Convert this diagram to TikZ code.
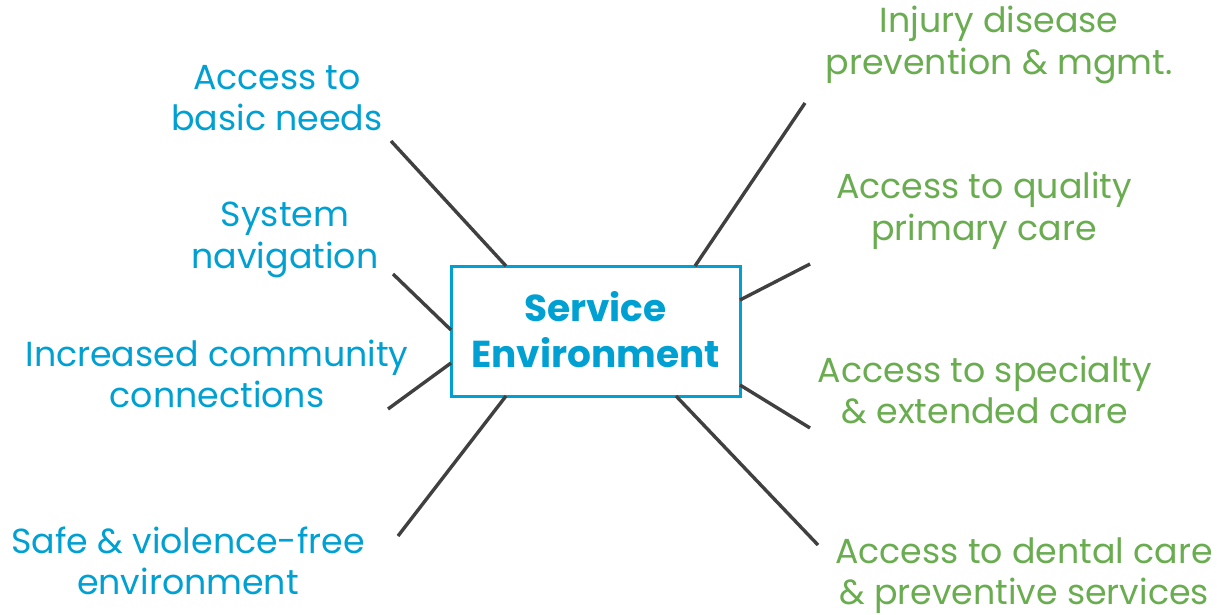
\documentclass[tikz,border=0pt]{standalone}
\usepackage{fontspec}
\setmainfont{Poppins}
\definecolor{sblue}{RGB}{0,160,210}
\definecolor{sgreen}{RGB}{106,172,80}
\definecolor{sline}{RGB}{64,64,64}
\begin{document}
\begin{tikzpicture}[x=1pt,y=-1pt,
  lbl/.style={align=center,inner sep=0pt,font=\fontsize{34.8}{41.5}\selectfont},
  bl/.style={lbl,text=sblue},
  gr/.style={lbl,text=sgreen},
  conn/.style={draw=sline,line width=3.4pt},
  hub/.style={draw=sblue,line width=3pt,minimum width=289pt,minimum height=130pt,inner sep=0pt,align=center,text=sblue,font=\fontsize{37.5}{46}\selectfont\bfseries}]
\useasboundingbox (0,0) rectangle (1217,615);
\node[hub] (box) at (595.5,331) {\raisebox{3pt}{Service}\\\raisebox{3pt}{Environment}};
% left labels
\node[bl] (l1) at (277,98) {Access to\\basic needs};
\node[bl] (l2) at (285,240) {System\\navigation};
\node[bl] (l3) at (217,374) {Increased community\\connections};
\node[bl] (l4) at (188,561) {Safe \& violence-free\\environment};
% right labels
\node[gr] (r1) at (999,45) {Injury disease\\prevention \& mgmt.};
\node[gr] (r2) at (984,211) {Access to quality\\primary care};
\node[gr] (r3) at (985,390) {Access to specialty\\\& extended care};
\node[gr] (r4) at (1024,575.5) {Access to dental care\\\& preventive services};
% connector ends
\coordinate (a1) at (391,141); \coordinate (b1) at (506,266);
\coordinate (a2) at (393,274); \coordinate (b2) at (451,330);
\coordinate (a3) at (388,409); \coordinate (b3) at (451,363);
\coordinate (a4) at (398,536); \coordinate (b4) at (506,396);
\coordinate (c1) at (805,103); \coordinate (d1) at (695,266);
\coordinate (c2) at (810,264); \coordinate (d2) at (740,300);
\coordinate (c3) at (810,428); \coordinate (d3) at (740,385);
\coordinate (c4) at (818,545); \coordinate (d4) at (676,396);
\foreach \i in {1,...,4}{
  \draw[conn] (a\i) -- (b\i);
  \draw[conn] (c\i) -- (d\i);
}
\end{tikzpicture}
\end{document}
